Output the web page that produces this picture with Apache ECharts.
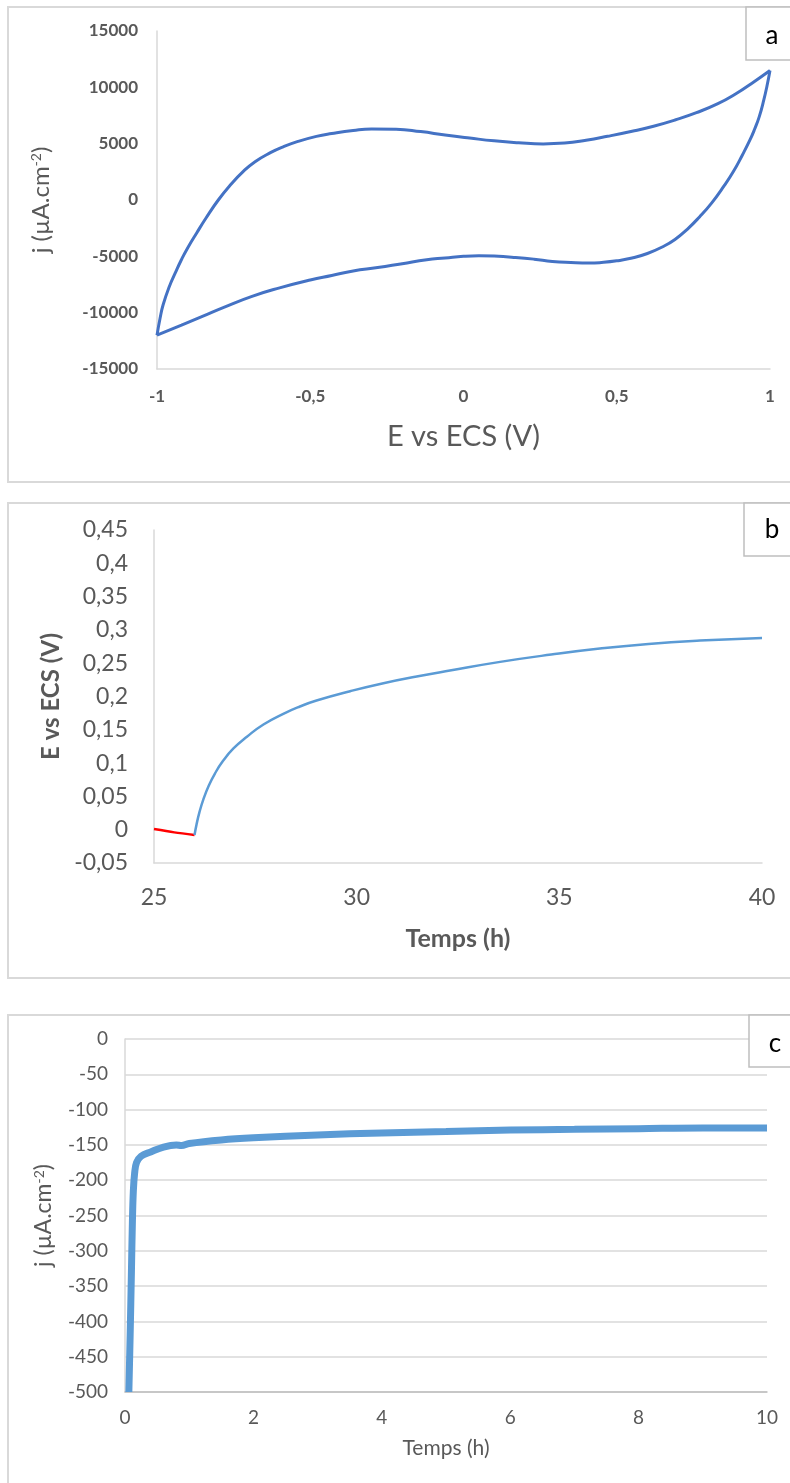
<!DOCTYPE html>
<html>
<head>
<meta charset="utf-8">
<script src="https://cdn.jsdelivr.net/npm/echarts@6/dist/echarts.min.js"></script>
<style>
html,body{margin:0;padding:0;background:#fff;}
#c{width:790px;height:1483px;}
</style>
</head>
<body>
<div id="c"></div>
<script>
// ---- Panel a : cyclic voltammogram (E in V, j in µA/cm²)
const cvForwardE = [-1, -0.99, -0.98, -0.96, -0.94, -0.92, -0.9, -0.87, -0.84, -0.8, -0.76, -0.72, -0.68, -0.63, -0.59, -0.54, -0.48, -0.43, -0.36, -0.3, -0.22, -0.14, -0.06, 0.02, 0.1, 0.18, 0.26, 0.33, 0.4, 0.47, 0.55, 0.62, 0.69, 0.76, 0.83, 0.89, 0.94, 1.0];
const cvForwardJ = [-12000, -10500, -9300, -7700, -6450, -5280, -4250, -2900, -1600, 0, 1350, 2500, 3400, 4200, 4700, 5200, 5650, 5900, 6170, 6300, 6280, 6070, 5770, 5500, 5250, 5080, 4980, 5050, 5300, 5650, 6100, 6550, 7100, 7750, 8550, 9450, 10350, 11500];
const cvReverseE = [1.0, 0.99, 0.98, 0.965, 0.95, 0.935, 0.91, 0.88, 0.85, 0.81, 0.77, 0.73, 0.69, 0.65, 0.6, 0.55, 0.5, 0.45, 0.41, 0.35, 0.29, 0.23, 0.17, 0.1, 0.05, 0.0, -0.06, -0.12, -0.2, -0.28, -0.36, -0.43, -0.5, -0.6, -0.69, -0.78, -0.85, -0.92, -1.0];
const cvReverseJ = [11500, 10100, 8900, 7400, 6300, 5350, 4000, 2500, 1250, -250, -1500, -2600, -3500, -4150, -4750, -5150, -5400, -5550, -5600, -5550, -5450, -5250, -5100, -4980, -4950, -5000, -5150, -5300, -5650, -6000, -6300, -6700, -7100, -7800, -8550, -9500, -10300, -11100, -12000];
const aXTicks = [-1, -0.5, 0, 0.5, 1];
const aYTicks = [-15000, -10000, -5000, 0, 5000, 10000, 15000];

// ---- Panel b : potential vs time
const bRedT = [25, 25.5, 26.0];
const bRedE = [0.001, -0.004, -0.008];
const bBlueT = [26.0, 26.05, 26.12, 26.22, 26.35, 26.5, 26.7, 26.96, 27.3, 27.7, 28.19, 28.6, 29.01, 29.84, 30.66, 31.48, 32.3, 33.54, 34.8, 36.0, 37.2, 38.47, 40.0];
const bBlueE = [-0.008, 0.008, 0.026, 0.046, 0.066, 0.084, 0.103, 0.122, 0.14, 0.158, 0.174, 0.185, 0.194, 0.208, 0.22, 0.23, 0.239, 0.252, 0.263, 0.272, 0.279, 0.284, 0.288];
const bXTicks = [25, 30, 35, 40];
const bYTicks = [-0.05, 0, 0.05, 0.1, 0.15, 0.2, 0.25, 0.3, 0.35, 0.4, 0.45];

// ---- Panel c : current density vs time
const cT = [0.06, 0.08, 0.1, 0.115, 0.13, 0.15, 0.18, 0.25, 0.4, 0.6, 0.8, 0.88, 1.0, 1.5, 2, 3, 4, 5, 6, 7, 8, 9, 10];
const cJ = [-500, -420, -330, -260, -215, -190, -175, -166, -160, -153, -150, -151, -148, -143, -140, -136, -133, -131, -129, -128, -127, -126, -126];
const cXTicks = [0, 2, 4, 6, 8, 10];
const cYTicks = [-500, -450, -400, -350, -300, -250, -200, -150, -100, -50, 0];

const zip = (a, b) => a.map((v, i) => [v, b[i]]);
const comma = v => String(parseFloat(Number(v).toFixed(4))).replace('.', ',');
const FONT = 'Lato, "Open Sans", sans-serif';
const grayTxt = '#595959';

const chart = echarts.init(document.getElementById('c'), null, {renderer: 'canvas'});

const supRich = size => ({ sup: { fontSize: Math.round(size * 0.6), verticalAlign: 'top', padding: [0, 0, Math.round(size * 0.45), 0], color: grayTxt, fontFamily: FONT } });

const option = {
  animation: false,
  backgroundColor: '#fff',
  graphic: [
    { type: 'rect', shape: { x: 8, y: 7, width: 800, height: 475 }, style: { fill: 'none', stroke: '#d9d9d9', lineWidth: 2 }, silent: true },
    { type: 'rect', shape: { x: 8, y: 503, width: 800, height: 475 }, style: { fill: 'none', stroke: '#d9d9d9', lineWidth: 2 }, silent: true },
    { type: 'rect', shape: { x: 8, y: 1015, width: 800, height: 500 }, style: { fill: 'none', stroke: '#d9d9d9', lineWidth: 2 }, silent: true },
    { type: 'rect', shape: { x: 746, y: 7, width: 60, height: 53 }, style: { fill: '#fff', stroke: '#bfbfbf', lineWidth: 1.5 }, z: 10 },
    { type: 'text', x: 772, y: 36, style: { text: 'a', fontSize: 26, fontFamily: FONT, fill: '#000', align: 'center', verticalAlign: 'middle' }, z: 11 },
    { type: 'rect', shape: { x: 744, y: 503, width: 60, height: 53 }, style: { fill: '#fff', stroke: '#bfbfbf', lineWidth: 1.5 }, z: 10 },
    { type: 'text', x: 772, y: 530, style: { text: 'b', fontSize: 26, fontFamily: FONT, fill: '#000', align: 'center', verticalAlign: 'middle' }, z: 11 },
    { type: 'rect', shape: { x: 749, y: 1015, width: 60, height: 52 }, style: { fill: '#fff', stroke: '#bfbfbf', lineWidth: 1.5 }, z: 10 },
    { type: 'text', x: 775, y: 1044, style: { text: 'c', fontSize: 26, fontFamily: FONT, fill: '#000', align: 'center', verticalAlign: 'middle' }, z: 11 }
  ],
  grid: [
    { left: 157, top: 31, width: 613, height: 338 },
    { left: 154, top: 530, width: 608, height: 333 },
    { left: 125, top: 1039, width: 642, height: 353 }
  ],
  xAxis: [
    { gridIndex: 0, type: 'value', min: aXTicks[0], max: aXTicks[aXTicks.length - 1], interval: 0.5,
      axisLine: { show: true, onZero: false, lineStyle: { color: '#d9d9d9', width: 1.5 } }, axisTick: { show: false }, splitLine: { show: false },
      axisLabel: { formatter: comma, color: grayTxt, fontSize: 17, fontWeight: 'bold', fontFamily: FONT, margin: 19 },
      name: 'E vs ECS (V)', nameLocation: 'middle', nameGap: 53, nameTextStyle: { fontSize: 29, color: grayTxt, fontFamily: FONT } },
    { gridIndex: 1, type: 'value', min: bXTicks[0], max: bXTicks[bXTicks.length - 1], interval: 5,
      axisLine: { show: true, onZero: false, lineStyle: { color: '#d9d9d9', width: 1.5 } }, axisTick: { show: false }, splitLine: { show: false },
      axisLabel: { formatter: comma, color: grayTxt, fontSize: 23, fontFamily: FONT, margin: 23 },
      name: 'Temps (h)', nameLocation: 'middle', nameGap: 63, nameTextStyle: { fontSize: 25, fontWeight: 'bold', color: grayTxt, fontFamily: FONT } },
    { gridIndex: 2, type: 'value', min: cXTicks[0], max: cXTicks[cXTicks.length - 1], interval: 2,
      axisLine: { show: true, onZero: false, lineStyle: { color: '#bfbfbf', width: 1.5 } }, axisTick: { show: false }, splitLine: { show: false },
      axisLabel: { formatter: comma, color: grayTxt, fontSize: 19, fontFamily: FONT, margin: 16 },
      name: 'Temps (h)', nameLocation: 'middle', nameGap: 46, nameTextStyle: { fontSize: 21, color: grayTxt, fontFamily: FONT } }
  ],
  yAxis: [
    { gridIndex: 0, type: 'value', min: aYTicks[0], max: aYTicks[aYTicks.length - 1], interval: 5000,
      axisLine: { show: true, onZero: false, lineStyle: { color: '#d9d9d9', width: 1.5 } }, axisTick: { show: false }, splitLine: { show: false },
      axisLabel: { formatter: comma, color: grayTxt, fontSize: 17, fontWeight: 'bold', fontFamily: FONT, margin: 19 },
      name: 'j (µA.cm{sup|-2})', nameLocation: 'middle', nameGap: 103, nameRotate: 90,
      nameTextStyle: { fontSize: 24, color: grayTxt, fontFamily: FONT, rich: supRich(24) } },
    { gridIndex: 1, type: 'value', min: bYTicks[0], max: bYTicks[bYTicks.length - 1], interval: 0.05,
      axisLine: { show: true, onZero: false, lineStyle: { color: '#d9d9d9', width: 1.5 } }, axisTick: { show: false }, splitLine: { show: false },
      axisLabel: { formatter: v => comma(Number(v).toFixed(2)), color: grayTxt, fontSize: 23, fontFamily: FONT, margin: 26 },
      name: 'E vs ECS (V)', nameLocation: 'middle', nameGap: 87, nameRotate: 90,
      nameTextStyle: { fontSize: 24, fontWeight: 'bold', color: grayTxt, fontFamily: FONT } },
    { gridIndex: 2, type: 'value', min: cYTicks[0], max: cYTicks[cYTicks.length - 1], interval: 50,
      axisLine: { show: true, onZero: false, lineStyle: { color: '#d9d9d9', width: 1.5 } }, axisTick: { show: false },
      splitLine: { show: true, lineStyle: { color: '#d9d9d9', width: 1.5 } },
      axisLabel: { formatter: comma, color: grayTxt, fontSize: 19, fontFamily: FONT, margin: 17 },
      name: 'j (µA.cm{sup|-2})', nameLocation: 'middle', nameGap: 69, nameRotate: 90,
      nameTextStyle: { fontSize: 23, color: grayTxt, fontFamily: FONT, rich: supRich(23) } }
  ],
  series: [
    { type: 'line', xAxisIndex: 0, yAxisIndex: 0, data: zip(cvForwardE, cvForwardJ), smooth: 0.5, showSymbol: false,
      lineStyle: { color: '#4472c4', width: 3 }, itemStyle: { color: '#4472c4' } },
    { type: 'line', xAxisIndex: 0, yAxisIndex: 0, data: zip(cvReverseE, cvReverseJ), smooth: 0.5, showSymbol: false,
      lineStyle: { color: '#4472c4', width: 3 }, itemStyle: { color: '#4472c4' } },
    { type: 'line', xAxisIndex: 1, yAxisIndex: 1, data: zip(bRedT, bRedE), smooth: 0.3, showSymbol: false,
      lineStyle: { color: '#ff0000', width: 2.5 }, itemStyle: { color: '#ff0000' } },
    { type: 'line', xAxisIndex: 1, yAxisIndex: 1, data: zip(bBlueT, bBlueE), smooth: 0.5, showSymbol: false,
      lineStyle: { color: '#5b9bd5', width: 2.5 }, itemStyle: { color: '#5b9bd5' } },
    { type: 'line', xAxisIndex: 2, yAxisIndex: 2, data: zip(cT, cJ), smooth: 0.4, showSymbol: false,
      lineStyle: { color: '#5b9bd5', width: 7 }, itemStyle: { color: '#5b9bd5' } }
  ]
};
chart.setOption(option);
</script>
</body>
</html>
